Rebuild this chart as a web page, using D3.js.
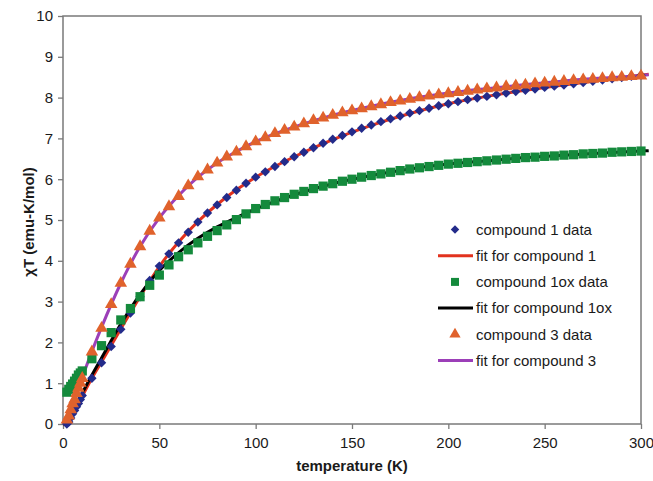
<!DOCTYPE html>
<html><head><meta charset="utf-8">
<script src="https://cdn.jsdelivr.net/npm/d3@7"></script>
<style>body{margin:0;background:#fff}svg{display:block}text{font-family:"Liberation Sans",Arial,sans-serif;fill:#1a1a1a}</style>
</head><body>
<svg id="c" width="653" height="481"></svg>
<script>
// ---- data ----
const dataT = [2,3,4,5,6,7,8,9,10,15,20,25,30,35,40,45,50,55,60,65,70,75,80,85,90,95,100,105,110,115,120,125,130,135,140,145,150,155,160,165,170,175,180,185,190,195,200,205,210,215,220,225,230,235,240,245,250,255,260,265,270,275,280,285,290,295,300];
const compound1 = [0.0,0.05,0.15,0.25,0.33,0.42,0.5,0.6,0.7,1.12,1.5,1.9,2.32,2.72,3.12,3.52,3.87,4.17,4.44,4.7,4.95,5.17,5.37,5.55,5.73,5.9,6.05,6.18,6.31,6.43,6.55,6.66,6.77,6.88,6.98,7.07,7.16,7.25,7.33,7.41,7.48,7.55,7.62,7.68,7.74,7.8,7.85,7.9,7.95,7.99,8.03,8.07,8.11,8.15,8.18,8.21,8.25,8.28,8.31,8.34,8.37,8.4,8.43,8.46,8.49,8.52,8.55];
const compound1ox = [0.78,0.85,0.92,0.98,1.05,1.12,1.2,1.25,1.3,1.6,1.92,2.24,2.55,2.83,3.12,3.4,3.65,3.9,4.1,4.27,4.44,4.6,4.74,4.88,5.01,5.15,5.28,5.38,5.47,5.55,5.63,5.7,5.77,5.83,5.89,5.95,6.0,6.05,6.09,6.13,6.17,6.21,6.25,6.28,6.31,6.34,6.37,6.39,6.41,6.43,6.45,6.47,6.49,6.51,6.53,6.54,6.56,6.57,6.59,6.6,6.62,6.63,6.64,6.66,6.67,6.68,6.69];
const compound3 = [0.1,0.2,0.35,0.5,0.6,0.75,0.88,1.0,1.12,1.77,2.35,2.93,3.45,3.92,4.35,4.73,5.05,5.33,5.58,5.84,6.06,6.23,6.4,6.55,6.67,6.8,6.92,7.02,7.12,7.2,7.28,7.36,7.44,7.5,7.57,7.63,7.68,7.73,7.78,7.83,7.88,7.92,7.96,8.0,8.04,8.07,8.1,8.13,8.16,8.19,8.22,8.24,8.27,8.29,8.31,8.34,8.36,8.38,8.4,8.42,8.44,8.45,8.47,8.49,8.5,8.52,8.53];

const fitT = [0,2,5,10,15,20,30,40,50,60,70,80,90,100,120,140,160,180,200,220,240,260,280,300,304];
const fit1 = [0,0.0,0.22,0.68,1.12,1.52,2.33,3.12,3.86,4.46,4.96,5.38,5.74,6.05,6.55,6.97,7.32,7.61,7.85,8.03,8.18,8.31,8.43,8.55,8.57];
const fit1ox = [0,0.05,0.32,0.76,1.2,1.62,2.45,3.18,3.76,4.2,4.55,4.83,5.06,5.27,5.62,5.89,6.09,6.25,6.37,6.45,6.53,6.59,6.64,6.69,6.7];
const fit3 = [0,0.12,0.5,1.14,1.78,2.37,3.45,4.35,5.05,5.6,6.05,6.4,6.68,6.92,7.28,7.57,7.79,7.97,8.11,8.22,8.32,8.41,8.48,8.54,8.56];

const xTicks = [0,50,100,150,200,250,300];
const yTicks = [0,1,2,3,4,5,6,7,8,9,10];
const legendLabels = ["compound 1 data","fit for compound 1","compound 1ox data","fit for compound 1ox","compound 3 data","fit for compound 3"];

// ---- chart ----
const svg = d3.select("#c");
const x = d3.scaleLinear().domain([0,300]).range([63,641]);
const y = d3.scaleLinear().domain([0,10]).range([424,16]);
const frame = "#7a7a7a";

const gx = svg.append("g").attr("transform","translate(0,424)")
  .call(d3.axisBottom(x).tickValues(xTicks).tickSize(5).tickPadding(8));
const gy = svg.append("g").attr("transform","translate(63,0)")
  .call(d3.axisLeft(y).tickValues(yTicks).tickSize(5).tickPadding(5));
[gx,gy].forEach(g=>{
  g.select(".domain").remove();
  g.selectAll("line").attr("stroke",frame).attr("stroke-width",1.3);
  g.selectAll("text").style("font-size","15px").attr("fill","#1a1a1a");
});
svg.append("rect").attr("x",x(0)).attr("y",y(10)).attr("width",x(300)-x(0)).attr("height",y(0)-y(10))
  .attr("fill","none").attr("stroke",frame).attr("stroke-width",1.5);

const colors = {d1:"#232b8a", f1:"#e2321e", d1ox:"#148a3c", f1ox:"#000000", d3:"#e0622c", f3:"#9c3fb8"};

const line = d3.line().x(d=>x(d[0])).y(d=>y(d[1])).curve(d3.curveMonotoneX);
function drawFit(vals,col){
  svg.append("path").datum(fitT.map((t,i)=>[t,vals[i]])).attr("d",line)
    .attr("fill","none").attr("stroke",col).attr("stroke-width",3);
}
drawFit(fit1,colors.f1);
drawFit(fit1ox,colors.f1ox);
drawFit(fit3,colors.f3);

function drawPts(vals,col,type,size,rot){
  const s = d3.symbol().type(type).size(size);
  svg.append("g").selectAll("path").data(dataT.map((t,i)=>[t,vals[i]])).join("path")
    .attr("transform",d=>`translate(${x(d[0])},${y(d[1])}) rotate(${rot})`)
    .attr("d",s()).attr("fill",col);
}
drawPts(compound1,colors.d1,d3.symbolSquare,44,45);
drawPts(compound1ox,colors.d1ox,d3.symbolSquare,85,0);
drawPts(compound3,colors.d3,d3.symbolTriangle,68,0);

// legend
const lg = svg.append("g");
const ly0 = 229.5, lstep = 26.2, lmx = 455;
const legendKinds = [
  {t:"pt",type:d3.symbolSquare,size:36,rot:45,col:colors.d1},
  {t:"ln",col:colors.f1},
  {t:"pt",type:d3.symbolSquare,size:64,rot:0,col:colors.d1ox},
  {t:"ln",col:colors.f1ox},
  {t:"pt",type:d3.symbolTriangle,size:55,rot:0,col:colors.d3},
  {t:"ln",col:colors.f3}
];
legendLabels.forEach((lab,i)=>{
  const yy = ly0 + i*lstep;
  const k = legendKinds[i];
  if(k.t==="pt"){
    lg.append("path").attr("d",d3.symbol().type(k.type).size(k.size)())
      .attr("transform",`translate(${lmx},${yy}) rotate(${k.rot})`).attr("fill",k.col);
  } else {
    lg.append("line").attr("x1",438).attr("x2",473).attr("y1",yy).attr("y2",yy)
      .attr("stroke",k.col).attr("stroke-width",3);
  }
  lg.append("text").attr("x",476).attr("y",yy).attr("dy","0.35em").style("font-size","15px").text(lab);
});

// axis titles
svg.append("text").attr("x",352).attr("y",471).attr("text-anchor","middle")
  .style("font-size","15px").style("font-weight","bold").text("temperature (K)");
svg.append("text").attr("transform","translate(34,222) rotate(-90)").attr("text-anchor","middle")
  .style("font-size","15px").style("font-weight","bold").text("χT (emu-K/mol)");
</script>
</body></html>
